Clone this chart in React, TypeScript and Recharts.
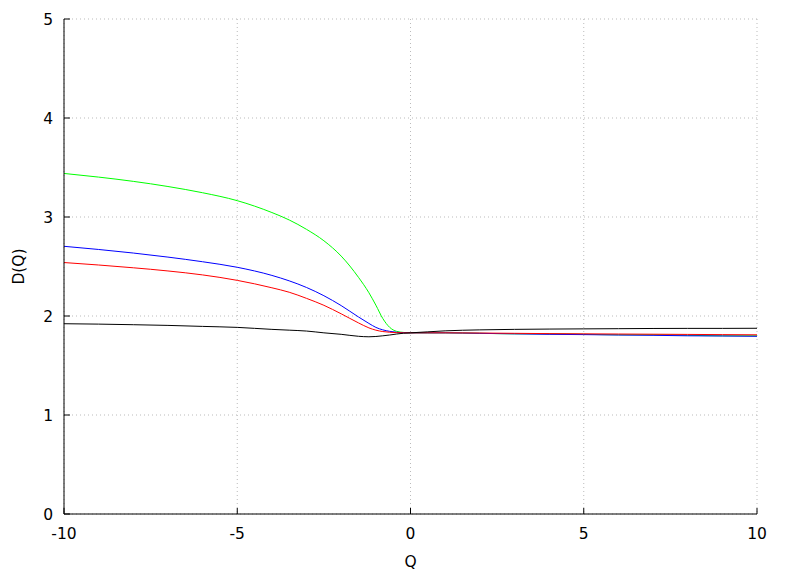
import React from 'react';
import { LineChart, Line, XAxis, YAxis, CartesianGrid } from 'recharts';

const qValues = [-10, -9, -8, -7, -6, -5, -4, -3.5, -3, -2.5, -2, -1.5, -1.2, -1, -0.8, -0.6, -0.4, -0.2, 0, 0.5, 1, 2, 3, 4, 5, 6, 7, 8, 9, 10];

const greenSeries = [3.44, 3.403, 3.36, 3.308, 3.245, 3.165, 3.045, 2.97, 2.875, 2.76, 2.605, 2.39, 2.235, 2.11, 1.975, 1.885, 1.845, 1.834, 1.83, 1.83, 1.83, 1.825, 1.82, 1.82, 1.815, 1.81, 1.81, 1.805, 1.8, 1.8];
const blueSeries = [2.704, 2.672, 2.636, 2.595, 2.548, 2.492, 2.41, 2.355, 2.288, 2.205, 2.105, 1.99, 1.925, 1.885, 1.86, 1.845, 1.836, 1.831, 1.83, 1.83, 1.83, 1.825, 1.82, 1.815, 1.812, 1.808, 1.805, 1.8, 1.798, 1.795];
const redSeries = [2.54, 2.515, 2.487, 2.455, 2.415, 2.36, 2.285, 2.24, 2.178, 2.108, 2.022, 1.93, 1.88, 1.857, 1.843, 1.836, 1.832, 1.83, 1.83, 1.83, 1.83, 1.828, 1.825, 1.822, 1.82, 1.818, 1.816, 1.814, 1.812, 1.81];
const blackSeries = [1.922, 1.918, 1.912, 1.905, 1.895, 1.885, 1.865, 1.857, 1.848, 1.83, 1.815, 1.795, 1.79, 1.793, 1.8, 1.808, 1.818, 1.826, 1.83, 1.84, 1.85, 1.86, 1.865, 1.868, 1.87, 1.872, 1.874, 1.875, 1.875, 1.876];

const xTicks = [-10, -5, 0, 5, 10];
const yTicks = [0, 1, 2, 3, 4, 5];

const data = qValues.map((q, i) => ({
  q,
  green: greenSeries[i],
  blue: blueSeries[i],
  red: redSeries[i],
  black: blackSeries[i],
}));

const font = { fontFamily: 'DejaVu Sans', fontSize: 15.5, fill: '#000' };
const emptyTick = () => <g />;

export default function App() {
  return (
    <div style={{ position: 'absolute', left: 0, top: 0, background: '#fff' }}>
      <LineChart width={788} height={576} data={data} margin={{ top: 19, right: 31, bottom: 0, left: 0 }}>
        <CartesianGrid stroke="#bbbbbb" strokeDasharray="1 3" />
        <XAxis
          dataKey="q"
          type="number"
          domain={[-10, 10]}
          ticks={xTicks}
          height={62}
          stroke="#000"
          tickSize={-6}
          tickMargin={20}
          tick={font}
          label={{ value: 'Q', position: 'insideBottom', offset: 9, style: font }}
        />
        <XAxis
          xAxisId="top"
          orientation="top"
          dataKey="q"
          type="number"
          domain={[-10, 10]}
          ticks={xTicks}
          height={0}
          stroke="#000"
          tickSize={-6}
          tick={emptyTick}
        />
        <YAxis
          type="number"
          domain={[0, 5]}
          ticks={yTicks}
          width={64}
          stroke="#000"
          tickSize={-6}
          tickMargin={17}
          tick={font}
          label={{ value: 'D(Q)', angle: -90, position: 'insideLeft', offset: 18, style: { ...font, textAnchor: 'middle' } }}
        />
        <YAxis
          yAxisId="right"
          orientation="right"
          type="number"
          domain={[0, 5]}
          ticks={yTicks}
          width={0}
          stroke="#000"
          tickSize={-6}
          tick={emptyTick}
        />
        <Line type="monotone" dataKey="green" stroke="#00ff00" strokeWidth={1} dot={false} isAnimationActive={false} />
        <Line type="monotone" dataKey="blue" stroke="#0000ff" strokeWidth={1} dot={false} isAnimationActive={false} />
        <Line type="monotone" dataKey="red" stroke="#ff0000" strokeWidth={1} dot={false} isAnimationActive={false} />
        <Line type="monotone" dataKey="black" stroke="#000000" strokeWidth={1} dot={false} isAnimationActive={false} />
      </LineChart>
    </div>
  );
}
